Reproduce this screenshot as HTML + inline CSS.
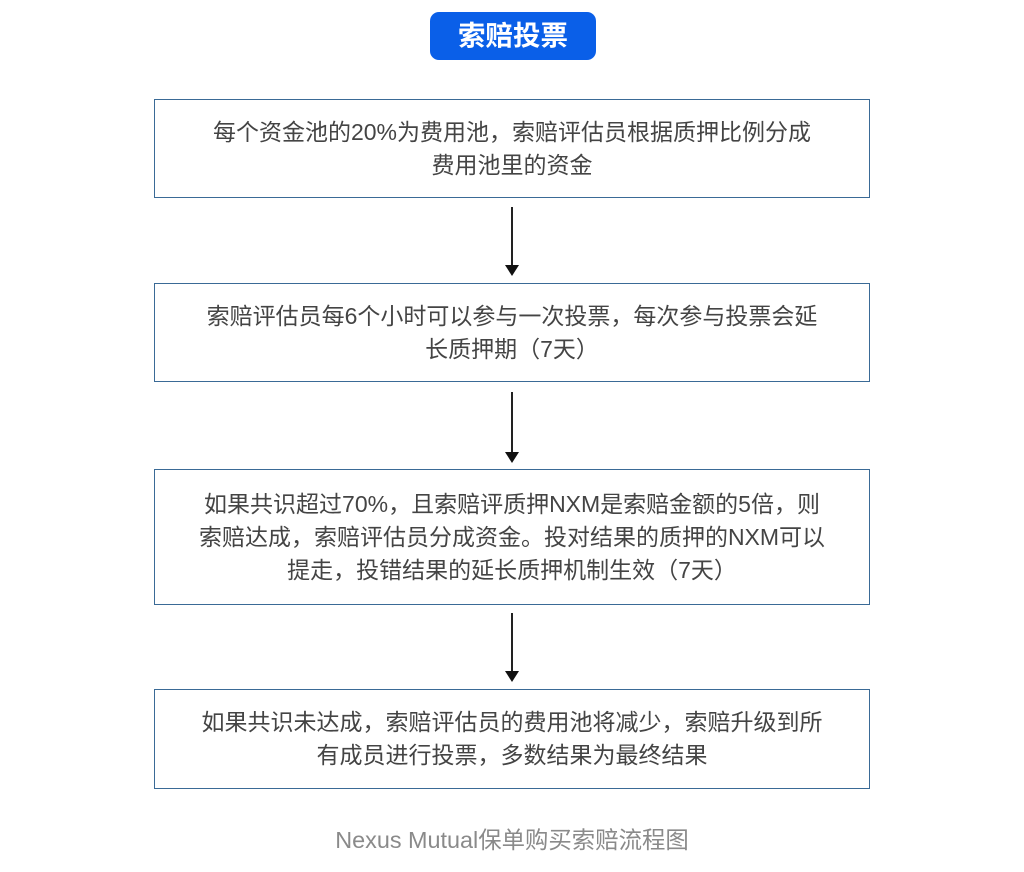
<!DOCTYPE html>
<html><head><meta charset="utf-8"><style>
body{margin:0;width:1024px;height:872px;background:#fff;position:relative;overflow:hidden;font-family:"Liberation Sans","Noto Sans CJK SC",sans-serif;}
.t{position:absolute;left:430px;top:12px;width:166px;height:48px;background:#0a5fe8;border-radius:9px;color:#fff;font-weight:bold;font-size:27.5px;line-height:48px;text-align:center;}
.b{position:absolute;left:154px;width:716px;border:1.5px solid #3a6a96;box-sizing:border-box;display:flex;align-items:center;justify-content:center;text-align:center;color:#444;font-size:23px;line-height:33px;}
.a{position:absolute;left:511px;width:1.5px;background:#222;}
.h{position:absolute;left:505px;width:0;height:0;border-left:7px solid transparent;border-right:7px solid transparent;border-top:11px solid #111;}
.c{position:absolute;left:0;width:1024px;top:821px;text-align:center;color:#8a8a8a;font-size:23.4px;}
</style></head><body>
<div class="t">索赔投票</div>
<div class="b" style="top:99px;height:99px">每个资金池的20%为费用池，索赔评估员根据质押比例分成<br>费用池里的资金</div>
<div class="a" style="top:207px;height:60px"></div><div class="h" style="top:265px"></div>
<div class="b" style="top:283px;height:99px">索赔评估员每6个小时可以参与一次投票，每次参与投票会延<br>长质押期（7天）</div>
<div class="a" style="top:392px;height:62px"></div><div class="h" style="top:452px"></div>
<div class="b" style="top:469px;height:136px">如果共识超过70%，且索赔评质押NXM是索赔金额的5倍，则<br>索赔达成，索赔评估员分成资金。投对结果的质押的NXM可以<br>提走，投错结果的延长质押机制生效（7天）</div>
<div class="a" style="top:613px;height:60px"></div><div class="h" style="top:671px"></div>
<div class="b" style="top:689px;height:100px">如果共识未达成，索赔评估员的费用池将减少，索赔升级到所<br>有成员进行投票，多数结果为最终结果</div>
<div class="c">Nexus Mutual保单购买索赔流程图</div>
</body></html>
